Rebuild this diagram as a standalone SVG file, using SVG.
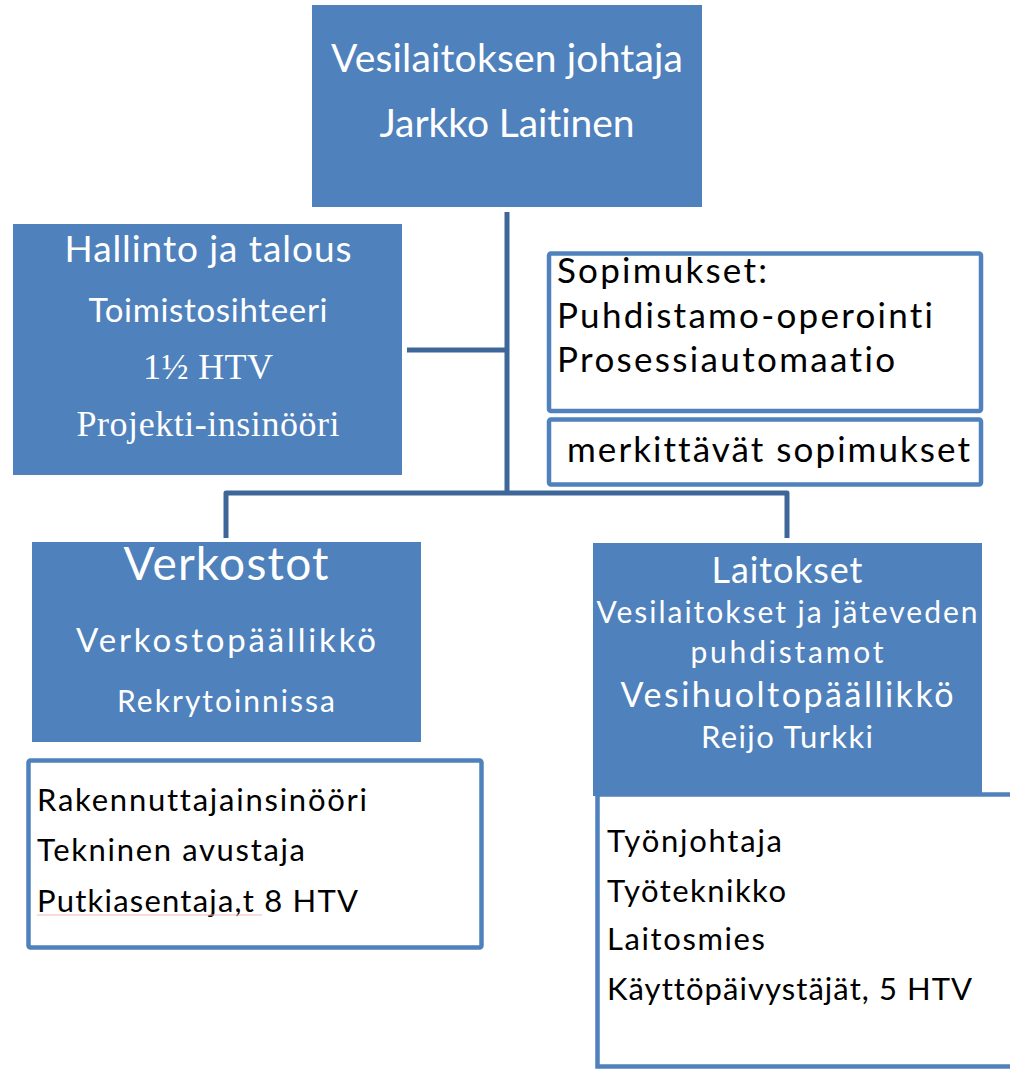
<svg xmlns="http://www.w3.org/2000/svg" width="1010" height="1069" viewBox="0 0 1010 1069">
<style>
.box{fill:#4f81bd;}
.wbox{fill:#ffffff;stroke:#4f81bd;stroke-width:4.5;}
.conn{fill:none;stroke:#3e6698;stroke-width:5;stroke-linejoin:round;stroke-linecap:butt;}
text{font-variant-ligatures:none;}
.w{fill:#ffffff;font-family:Lato,"Open Sans",sans-serif;text-anchor:middle;}
.ws{fill:#ffffff;font-family:"Liberation Serif","Times New Roman",serif;text-anchor:middle;}
.b{fill:#000000;font-family:Lato,"Open Sans",sans-serif;}
</style>
<rect width="1010" height="1069" fill="#ffffff"/>

<g id="connectors">
<path class="conn" d="M507,212 V493"/>
<path class="conn" d="M407,350 H507"/>
<path class="conn" d="M226,538 V493 H787 V538"/>
</g>

<g id="johtaja">
<rect class="box" x="312" y="5" width="390" height="202"/>
<text class="w" x="507" y="72" font-size="39" textLength="352">Vesilaitoksen johtaja</text>
<text class="w" x="507" y="137" font-size="39" textLength="255">Jarkko Laitinen</text>
</g>

<g id="hallinto">
<rect class="box" x="13" y="224" width="389" height="251"/>
<text class="w" x="208" y="262" font-size="37" textLength="287">Hallinto ja talous</text>
<text class="w" x="208" y="322" font-size="33" textLength="239">Toimistosihteeri</text>
<text class="ws" x="208" y="379" font-size="36" textLength="130">1½ HTV</text>
<text class="ws" x="208" y="436" font-size="36" textLength="263">Projekti-insinööri</text>
</g>

<g id="sopimukset">
<rect class="wbox" x="549" y="253.5" width="432" height="157.5" rx="2"/>
<text class="b" x="557" y="283" font-size="35" textLength="210">Sopimukset:</text>
<text class="b" x="557" y="328" font-size="35" textLength="376">Puhdistamo-operointi</text>
<text class="b" x="557" y="372" font-size="35" textLength="338">Prosessiautomaatio</text>
</g>

<g id="merkittavat">
<rect class="wbox" x="549" y="419.5" width="432" height="65" rx="2"/>
<text class="b" x="567" y="462" font-size="35" textLength="403">merkittävät sopimukset</text>
</g>

<g id="verkostot">
<rect class="box" x="32" y="542" width="389" height="200"/>
<text class="w" x="226" y="580" font-size="46" textLength="205">Verkostot</text>
<text class="w" x="226" y="652" font-size="33" textLength="300">Verkostopäällikkö</text>
<text class="w" x="226" y="712" font-size="30" textLength="218">Rekrytoinnissa</text>
</g>

<g id="verkostot-henkilosto">
<rect class="wbox" x="28.5" y="760.5" width="453" height="187" rx="2"/>
<text class="b" x="37" y="811" font-size="31" textLength="330">Rakennuttajainsinööri</text>
<text class="b" x="37" y="861" font-size="31" textLength="268">Tekninen avustaja</text>
<text class="b" x="37" y="912" font-size="31" textLength="321">Putkiasentaja,t 8 HTV</text>
<path d="M37,915 L262,915" stroke="#f2b8b8" stroke-width="1.2" fill="none"/>
</g>

<g id="laitokset-henkilosto">
<rect class="wbox" x="597.5" y="794.5" width="500" height="272"/>
<text class="b" x="607" y="852" font-size="31" textLength="175">Työnjohtaja</text>
<text class="b" x="607" y="902" font-size="31" textLength="179">Työteknikko</text>
<text class="b" x="607" y="950" font-size="31" textLength="158">Laitosmies</text>
<text class="b" x="607" y="1000" font-size="31" textLength="365">Käyttöpäivystäjät, 5 HTV</text>
</g>

<g id="laitokset">
<rect class="box" x="593" y="543" width="389" height="253"/>
<text class="w" x="787" y="583" font-size="36" textLength="151">Laitokset</text>
<text class="w" x="787" y="623" font-size="30" textLength="381">Vesilaitokset ja jäteveden</text>
<text class="w" x="787" y="663" font-size="30" textLength="193">puhdistamot</text>
<text class="w" x="787" y="707" font-size="34" textLength="333">Vesihuoltopäällikkö</text>
<text class="w" x="787" y="748" font-size="31" textLength="172">Reijo Turkki</text>
</g>
</svg>
